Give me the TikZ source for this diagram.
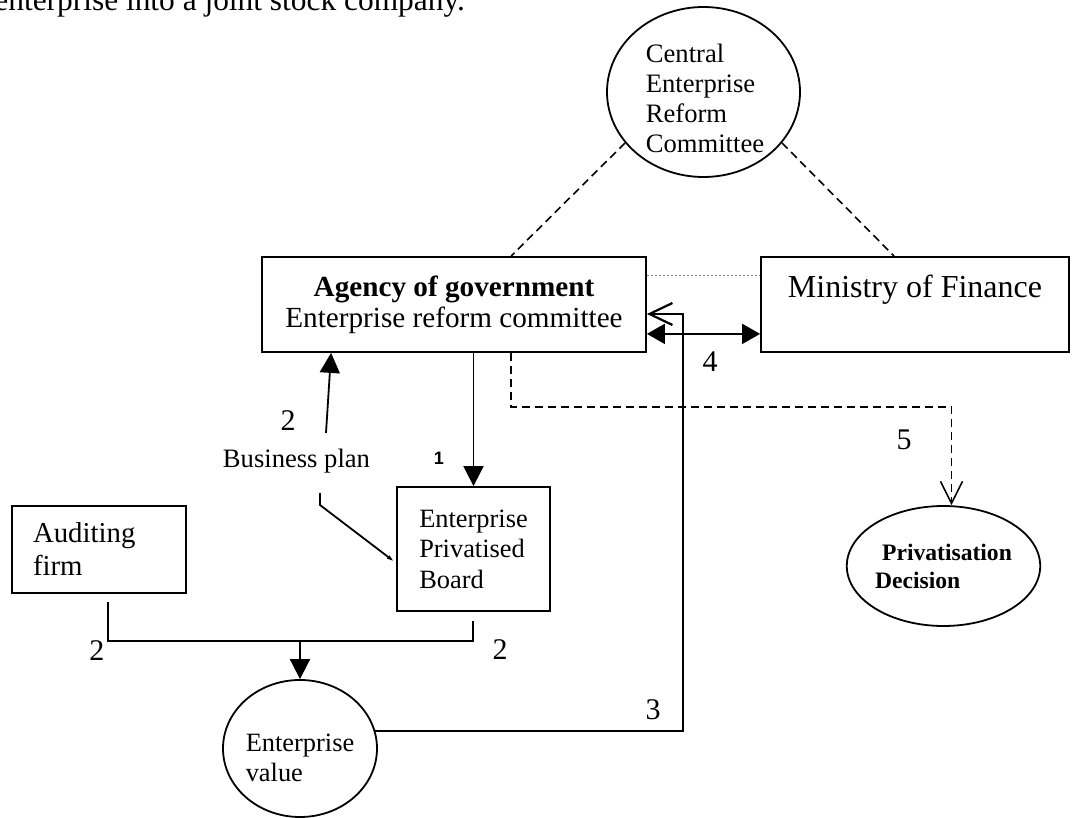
\documentclass[tikz,border=0pt]{standalone}
\usepackage{fontspec}
\setmainfont{Liberation Serif}
\newfontfamily\arialfont{Liberation Sans}
\usetikzlibrary{shapes.geometric,arrows.meta}

\begin{document}
\begin{tikzpicture}[x=0.5pt,y=-0.5pt,
    box/.style={draw,line width=0.9pt,inner sep=0pt},
    oval/.style={draw,ellipse,line width=0.9pt,inner sep=0pt},
    num/.style={inner sep=0pt,font=\fontsize{15}{15}\selectfont},
    fwd/.style={line width=0.9pt,-{Triangle[length=10pt,width=10pt]}},
    both/.style={line width=0.9pt,{Triangle[length=9pt,width=10pt]}-{Triangle[length=9pt,width=10pt]}},
    barb/.style={line width=1.1pt,-{Straight Barb[length=11.5pt,width=11pt]}},
    link/.style={line width=0.8pt,dash pattern=on 4pt off 2.5pt}]
  \useasboundingbox (0,0) rectangle (1072,818);
  \node[anchor=base west,inner sep=0pt,font=\fontsize{15.7}{16}\selectfont] (header) at (-6,11) {enterprise into a joint stock company.};

  \node[oval,minimum width=96.5pt,minimum height=85pt] (cerc) at (703.5,92) {};
  \node[align=left,inner sep=0pt,font=\fontsize{13.3}{15}\selectfont] (cerctext) at (705,98) {Central\\Enterprise\\Reform\\Committee};
  \node[box,minimum width=192pt,minimum height=47.5pt,align=center,font=\fontsize{14.6}{15.5}\selectfont] (agency) at (454,304.5) {\textbf{Agency of government}\\Enterprise reform committee};
  \node[box,minimum width=154pt,minimum height=47.5pt,text height=11.5pt,text depth=18.5pt,font=\fontsize{16}{16}\selectfont] (ministry) at (915,304.5) {Ministry of Finance};
  \node[box,minimum width=76.5pt,minimum height=62pt,align=left,font=\fontsize{13.2}{15.25}\selectfont] (board) at (473.5,549) {Enterprise\\Privatised\\Board};
  \node[box,minimum width=87pt,minimum height=43.5pt,text width=66pt,inner xsep=10.5pt,align=left,font=\fontsize{14.4}{16.5}\selectfont] (audit) at (99,549.5) {Auditing\\firm};
  \node[oval,minimum width=77pt,minimum height=68.5pt] (evalue) at (300,748.5) {};
  \node[align=left,inner sep=0pt,font=\fontsize{13.2}{15}\selectfont] (evaluetext) at (300,758) {Enterprise\\value};
  \node[oval,minimum width=86.5pt,minimum height=60pt,align=left,font=\bfseries\fontsize{11.8}{14}\selectfont] (decision) at (943.5,566) {\hspace*{3.5pt}Privatisation\\Decision};
  \node[inner sep=0pt,font=\fontsize{13.3}{15}\selectfont] (bplan) at (296.5,461) {Business plan};

  \node[inner sep=0pt,font=\arialfont\bfseries\fontsize{9}{9}\selectfont] (one) at (439,458) {1};
  \node[num] (twoplan) at (288,421) {2};
  \node[num] (twoaudit) at (97,651) {2};
  \node[num] (twoboard) at (500,650) {2};
  \node[num] (three) at (653,710) {3};
  \node[num] (four) at (710,362) {4};
  \node[num] (five) at (904,440) {5};

  \coordinate (bpup) at (326,433);
  \coordinate (bpdown) at (320,493);
  \coordinate (auditout) at (108,602);
  \coordinate (join) at (300,641);
  \coordinate (boardout) at (473,621);
  \coordinate (corner3) at (683,314);

  \draw[link] (cerc.213) -- ([xshift=125pt]agency.north west);
  \draw[link] (cerc.327) -- ([xshift=67pt]ministry.north west);
  \draw[gray,line width=0.5pt,dash pattern=on 1pt off 1pt] ([yshift=-9.5pt]agency.north east) -- ([yshift=-9.5pt]ministry.north west);
  \draw[both] ([yshift=9.5pt]agency.south east) -- ([yshift=9.5pt]ministry.south west);
  \draw[fwd] (agency.south -| board.north) -- (board.north);
  \draw[fwd] (bpup) -- ([xshift=35pt]agency.south west);
  \draw[line width=0.9pt,-{Latex[length=5pt,width=2pt]}] (bpdown) -- ++(0,12) -- ([yshift=-7pt]board.west);
  \draw[line width=0.9pt] (auditout) |- (join) -| (boardout);
  \draw[fwd] (join) -- (evalue.north);
  \draw[barb] (evalue.13) -| (corner3) -- (agency.east |- corner3);
  \draw[link,-{Straight Barb[length=11pt,width=11pt]}] ([xshift=125pt]agency.south west) |- ([xshift=4pt,yshift=49pt]decision.north) -- ([xshift=4pt]decision.north);
\end{tikzpicture}
\end{document}
